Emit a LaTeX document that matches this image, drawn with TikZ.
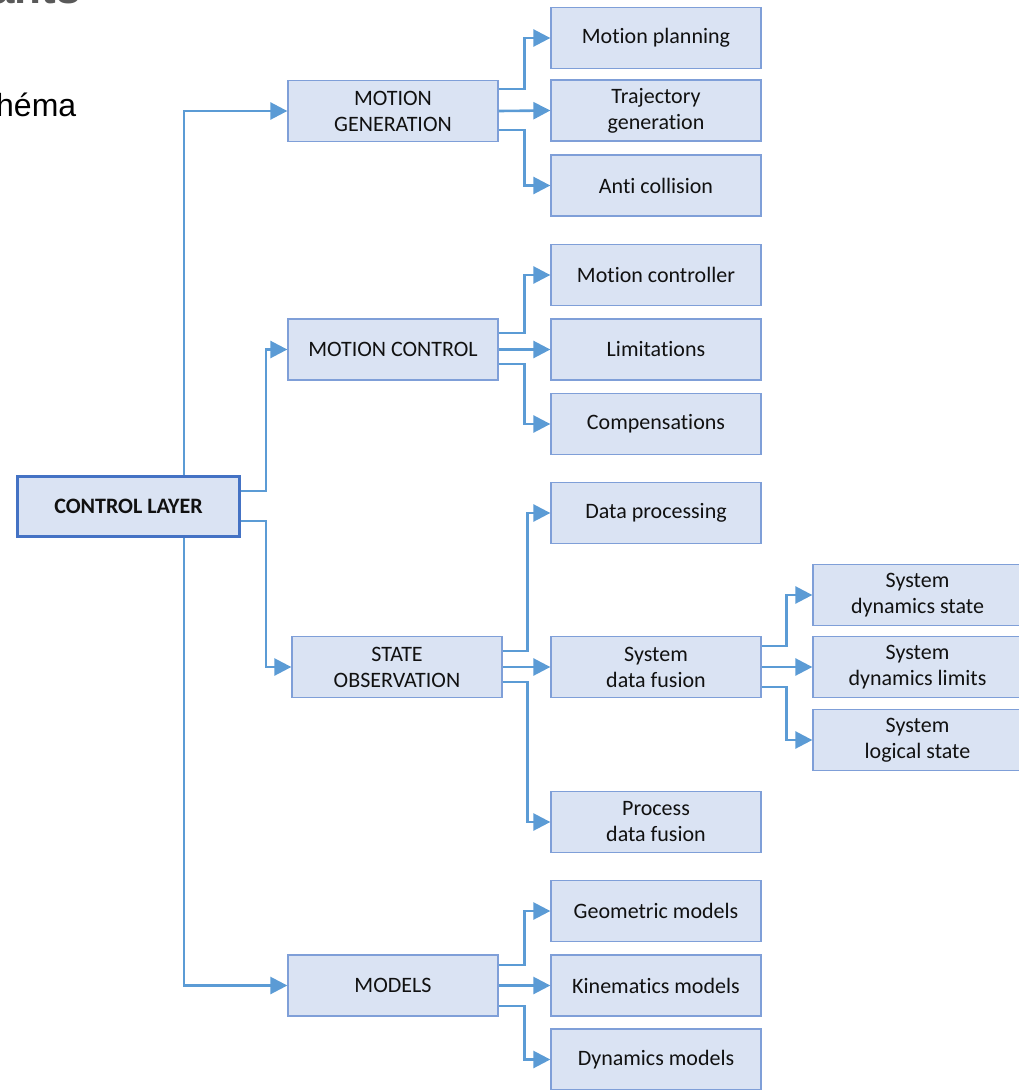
\documentclass[tikz,border=0pt]{standalone}
\usepackage{fontspec}
\setmainfont{Carlito}[Ligatures={NoCommon}]
\newfontfamily\arialfont{Liberation Sans}
\usetikzlibrary{arrows.meta,calc}
\definecolor{boxfill}{HTML}{DAE3F3}
\definecolor{boxborder}{HTML}{7F9FD8}
\definecolor{rootborder}{HTML}{4472C4}
\definecolor{linkcol}{HTML}{5B9BD5}
\definecolor{labelcol}{HTML}{111111}
\definecolor{titlegray}{HTML}{595959}
\begin{document}
\begin{tikzpicture}[x=1pt,y=-1pt,
  box/.style={draw=boxborder, fill=boxfill, line width=1.3pt, minimum width=210pt,
    minimum height=61pt, inner sep=0pt, align=center, text=labelcol,
    font=\fontsize{22}{26}\selectfont},
  rootbox/.style={box, draw=rootborder, line width=3.2pt, minimum width=222pt,
    minimum height=60pt, font=\bfseries\fontsize{22}{26}\selectfont},
  farbox/.style={box, minimum width=209pt},
  conn/.style={draw=linkcol, line width=2.6pt,
    -{Triangle[width=17pt,length=17pt]}}
]
\useasboundingbox (0,0) rectangle (1019,1090);
\clip (0,0) rectangle (1019,1090);

% heading fragments at the top left
\node[anchor=base west, inner sep=0pt, text=titlegray,
  font=\arialfont\bfseries\fontsize{44}{44}\selectfont] (title) at (-10,3) {ants};
\node[anchor=base west, inner sep=0pt, text=black,
  font=\arialfont\fontsize{32}{32}\selectfont] (subtitle) at (-4,116) {héma};

% root
\node[rootbox] (ctrl) at (128.5,506.5) {CONTROL LAYER};

% second level
\node[box] (mg) at (393,111) {MOTION\\GENERATION};
\node[box] (mc) at (393,349.5) {MOTION CONTROL};
\node[box] (so) at (397,667) {STATE\\OBSERVATION};
\node[box] (mo) at (393,985.5) {MODELS};

% third level
\node[box] (mp) at (656,38) {Motion planning};
\node[box] (tg) at (656,110.5) {Trajectory\\generation};
\node[box] (ac) at (656,185.5) {Anti collision};
\node[box] (mctl) at (656,275) {Motion controller};
\node[box] (lim) at (656,349.5) {Limitations};
\node[box] (comp) at (656,424) {Compensations};
\node[box] (dp) at (656,513) {Data processing};
\node[box] (sdf) at (656,667) {System\\data fusion};
\node[box] (pdf) at (656,822) {Process\\data fusion};
\node[box] (gm) at (656,911) {Geometric models};
\node[box] (km) at (656,985.5) {Kinematics models};
\node[box] (dm) at (656,1059.5) {Dynamics models};

% fourth level
\node[farbox] (sds) at (917.5,595) {System\\dynamics state};
\node[farbox] (sdl) at (917.5,667) {System\\dynamics limits};
\node[farbox] (sls) at (917.5,740) {System\\logical state};

% root to second level
\draw[conn] ($(ctrl.north)+(55.5,0)$) |- (mg.west);
\draw[conn] ($(ctrl.south)+(55.5,0)$) |- (mo.west);
\draw[conn] ($(ctrl.east)+(0,-15.5)$) -- ++(25,0) |- (mc.west);
\draw[conn] ($(ctrl.east)+(0,14.5)$) -- ++(25,0) |- (so.west);

% motion generation
\draw[conn] ($(mg.east)+(0,-22)$) -- ++(26,0) |- (mp.west);
\draw[conn] (mg.east) -- (tg.west);
\draw[conn] ($(mg.east)+(0,19)$) -- ++(26,0) |- (ac.west);

% motion control
\draw[conn] ($(mc.east)+(0,-16.5)$) -- ++(26,0) |- (mctl.west);
\draw[conn] (mc.east) -- (lim.west);
\draw[conn] ($(mc.east)+(0,14.5)$) -- ++(26,0) |- (comp.west);

% state observation
\draw[conn] ($(so.east)+(0,-16)$) -- ++(25,0) |- (dp.west);
\draw[conn] (so.east) -- (sdf.west);
\draw[conn] ($(so.east)+(0,15)$) -- ++(25,0) |- (pdf.west);

% system data fusion
\draw[conn] ($(sdf.east)+(0,-21)$) -- ++(25,0) |- (sds.west);
\draw[conn] (sdf.east) -- (sdl.west);
\draw[conn] ($(sdf.east)+(0,20)$) -- ++(25,0) |- (sls.west);

% models
\draw[conn] ($(mo.east)+(0,-20.5)$) -- ++(26,0) |- (gm.west);
\draw[conn] (mo.east) -- (km.west);
\draw[conn] ($(mo.east)+(0,20.5)$) -- ++(26,0) |- (dm.west);
\end{tikzpicture}
\end{document}
